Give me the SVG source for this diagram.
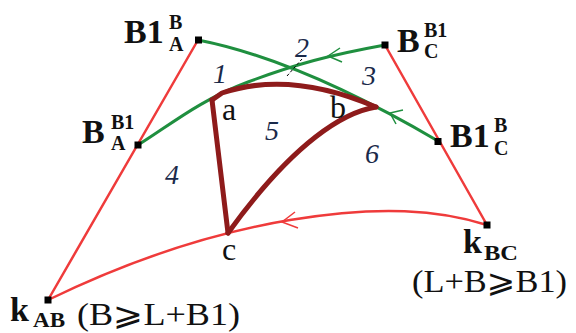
<svg xmlns="http://www.w3.org/2000/svg" width="576" height="333" viewBox="0 0 576 333">
<style>
.g{fill:none;stroke:#1f8f3f;stroke-width:3;stroke-linecap:round;stroke-linejoin:round}
.r{fill:none;stroke:#ef3b3b;stroke-width:2.5;stroke-linecap:round;stroke-linejoin:round}
.br{fill:none;stroke:#8e1b1b;stroke-width:5;stroke-linecap:round;stroke-linejoin:round}
.ga{fill:none;stroke:#1f8f3f;stroke-width:1.5}
.ra{fill:none;stroke:#ef3b3b;stroke-width:1.5}
.pt{fill:#000}
text{font-family:"Liberation Serif","DejaVu Serif","DejaVu Sans",serif;fill:#111}
.big{font-size:34px;font-weight:bold}
.sm{font-size:20px;font-weight:bold}
.lbl{font-size:32px}
.num{font-size:28px;font-style:italic;fill:#1a2a4a}
</style>
<g id="connectors">
<path class="r" d="M198,40 L48,300"/>
<path class="r" d="M385,45 L487,225"/>
<path class="r" d="M487,225 C440,210 380,205 290,220 S120,265 48,300"/>
<path class="ra" d="M295,212 L282,222 L298,228"/>
<path class="g" d="M198,40 Q300,60 438,141"/>
<path class="ga" d="M403,110 L390,113 L396,124"/>
<path class="g" d="M138,145 C170,125 200,100 248,82 S330,55 385,45"/>
<path class="ga" d="M340,48 L328,56 L342,62"/>
<path d="M287,76 L302,59" stroke="#000" stroke-width="1" stroke-dasharray="3,2" fill="none"/>
<path class="br" d="M212,100 L228,233"/>
<path class="br" d="M212,100 L222,93 Q290,70 376,107"/>
<path class="br" d="M376,107 C345,112 295,140 228,233"/>
</g>
<g id="B1AB">
<rect class="pt" x="195" y="36.5" width="7" height="7"/>
<text class="big" x="124" y="43">B1</text>
<text class="sm" x="169" y="29">B</text>
<text class="sm" x="169" y="51">A</text>
</g>
<g id="BAB1">
<rect class="pt" x="134.5" y="141.5" width="7" height="7"/>
<text class="big" x="82" y="143">B</text>
<text class="sm" x="111" y="129">B1</text>
<text class="sm" x="111" y="150">A</text>
</g>
<g id="BCB1">
<rect class="pt" x="381.5" y="41.5" width="7" height="7"/>
<text class="big" x="397" y="52">B</text>
<text class="sm" x="424" y="37">B1</text>
<text class="sm" x="424" y="58">C</text>
</g>
<g id="B1CB">
<rect class="pt" x="434.5" y="138" width="7" height="7"/>
<text class="big" x="450" y="147">B1</text>
<text class="sm" x="494" y="132">B</text>
<text class="sm" x="494" y="155">C</text>
</g>
<g id="kAB">
<rect class="pt" x="44.5" y="296.5" width="7" height="7"/>
<text class="big" x="10" y="321">k</text>
<text class="sm" x="33" y="327" textLength="32" lengthAdjust="spacingAndGlyphs">AB</text>
<text class="lbl" x="77" y="325" textLength="163" lengthAdjust="spacingAndGlyphs">(B⩾L+B1)</text>
</g>
<g id="kBC">
<rect class="pt" x="483.5" y="221.5" width="7" height="7"/>
<text class="big" x="463" y="253">k</text>
<text class="sm" x="484" y="260" textLength="34" lengthAdjust="spacingAndGlyphs">BC</text>
<text class="lbl" x="412" y="292" textLength="155" lengthAdjust="spacingAndGlyphs">(L+B⩾B1)</text>
</g>
<g id="a"><text class="lbl" x="222" y="120">a</text></g>
<g id="b"><text class="lbl" x="330" y="118">b</text></g>
<g id="c"><text class="lbl" x="222" y="260">c</text></g>
<g id="regions">
<text class="num" x="213" y="83">1</text>
<text class="num" x="295" y="57">2</text>
<text class="num" x="362" y="85">3</text>
<text class="num" x="165" y="184">4</text>
<text class="num" x="265" y="140">5</text>
<text class="num" x="365" y="163">6</text>
</g>
</svg>
